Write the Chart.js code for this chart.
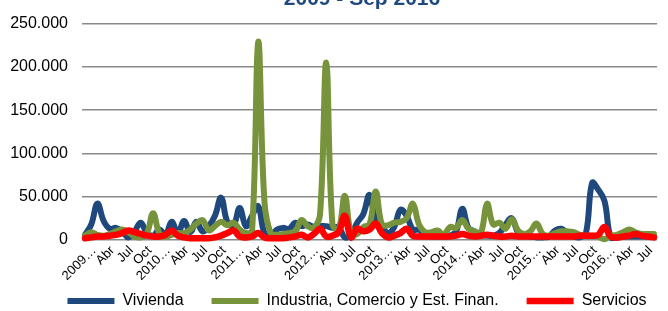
<!DOCTYPE html>
<html>
<head>
<meta charset="utf-8">
<script src="https://cdn.jsdelivr.net/npm/chart.js@4.4.1/dist/chart.umd.min.js"></script>
<style>
  html, body { margin: 0; padding: 0; background: #fff; }
  #wrap { position: relative; width: 668px; height: 311px; overflow: hidden; }
  #box { position: absolute; left: 0; top: 0; width: 668px; height: 339px; }
</style>
</head>
<body>
<div id="wrap"><div id="box"><canvas id="c"></canvas></div></div>
<script>
// ---- data (monthly, Ene 2009 - Sep 2016) ----
const monthNames = ['Ene','Feb','Mar','Abr','May','Jun','Jul','Ago','Sep','Oct','Nov','Dic'];
const categories = [];
for (let y = 2009; y <= 2016; y++) {
  for (let m = 0; m < 12; m++) {
    if (y === 2016 && m > 8) break;
    categories.push(monthNames[m] + ' ' + y);
  }
}
const tickLabels = [
  '2009…','Abr','Jul','Oct',
  '2010…','Abr','Jul','Oct',
  '2011…','Abr','Jul','Oct',
  '2012…','Abr','Jul','Oct',
  '2013…','Abr','Jul','Oct',
  '2014…','Abr','Jul','Oct',
  '2015…','Abr','Jul','Oct',
  '2016…','Abr','Jul'
];
const seriesNames = ['Vivienda', 'Industria, Comercio y Est. Finan.', 'Servicios'];
const vivienda = [
  6000,18000,42000,22000,13000,14000,10000,3000,10000,20000,8000,5000,
  12000,6000,21000,8000,22000,9000,21000,10000,16000,28000,49000,21000,
  17000,37000,16000,28000,39000,8000,4000,12000,14000,13000,20000,16000,
  18000,15000,16000,16000,14000,15000,3000,6000,20000,30000,52000,22000,
  15000,8000,15000,35000,28000,12000,12000,6000,4000,4000,4000,5000,
  10000,36000,14000,10000,6000,5000,5000,8000,18000,25000,9000,5000,
  4000,3000,3000,4000,11000,13000,8000,4000,3000,8000,66000,58000,
  45000,3000,3000,4000,4000,4000,4000,4000,4000
];
const industria = [
  5000,9000,6000,5000,7000,10000,12000,9000,4000,3000,8000,31000,
  8000,4000,6000,8000,8000,12000,19000,23000,11000,16000,21000,17000,
  20000,12000,8000,10000,229000,45000,8000,6000,7000,8000,10000,23000,
  16000,14000,30000,205000,18000,12000,51000,8000,7000,15000,18000,56000,
  18000,17000,20000,21000,25000,42000,18000,9000,9000,11000,6000,15000,
  14000,23000,13000,10000,8000,42000,18000,20000,13000,24000,11000,7000,
  10000,19000,7000,5000,8000,10000,10000,9000,6000,5000,5000,4000,
  1000,5000,6000,9000,12000,9000,7000,7000,7000
];
const servicios = [
  2000,3000,4000,4000,5000,6000,8000,11000,9000,7000,5000,4000,
  4000,6000,11000,5000,3000,2000,2000,2000,2000,3000,5000,8000,
  11000,4000,3000,4000,8000,3000,2000,2000,2000,3000,4000,6000,
  3000,7000,13000,4000,5000,9000,28000,3000,13000,10000,12000,19000,
  8000,3000,5000,8000,13000,5000,4000,4000,4000,4000,4000,4000,
  5000,7000,5000,4000,5000,6000,5000,4000,4000,5000,4000,4000,
  4000,4000,4000,4000,4000,4000,4000,4000,5000,5000,5000,6000,
  15000,4000,3000,4000,5000,7000,5000,4000,3000
];
const yTicks = [0, 50000, 100000, 150000, 200000, 250000];
const titleText = '2009 - Sep 2016';

const colors = ['#1F497D', '#77933C', '#FF0000'];
const FONT = '"Liberation Sans", Arial, sans-serif';

function fmt(v) {
  return String(v).replace(/\B(?=(\d{3})+(?!\d))/g, '.');
}

const titlePlugin = {
  id: 'cutTitle',
  afterLayout(chart) {
    // the source chart was cropped: legend is centred on the original (wider) frame
    const lg = chart.legend;
    if (lg) {
      lg.left += 18; lg.right += 18;
      lg.top -= 20; lg.bottom -= 20;
    }
  },
  afterDraw(chart) {
    const ctx = chart.ctx;
    ctx.save();
    ctx.font = 'bold 21px ' + FONT;
    ctx.fillStyle = '#1F497D';
    ctx.textAlign = 'center';
    ctx.textBaseline = 'alphabetic';
    ctx.fillText(titleText, 362, 4.5);
    ctx.restore();
  }
};

new Chart(document.getElementById('c'), {
  type: 'line',
  data: {
    labels: categories,
    datasets: [
      { label: seriesNames[0], data: vivienda, borderColor: colors[0], backgroundColor: colors[0], borderWidth: 6, order: 3 },
      { label: seriesNames[1], data: industria, borderColor: colors[1], backgroundColor: colors[1], borderWidth: 6, order: 2 },
      { label: seriesNames[2], data: servicios, borderColor: colors[2], backgroundColor: colors[2], borderWidth: 6.5, order: 1 }
    ].map(d => Object.assign(d, {
      pointRadius: 0, pointHoverRadius: 0, tension: 0.4, fill: false,
      borderCapStyle: 'round', borderJoinStyle: 'round', clip: false,
      pointStyle: 'line'
    }))
  },
  options: {
    responsive: true,
    maintainAspectRatio: false,
    animation: false,
    events: [],
    layout: { padding: { left: 10, right: 0, top: 19, bottom: 0 } },
    plugins: {
      title: { display: false },
      tooltip: { enabled: false },
      legend: {
        position: 'bottom',
        labels: {
          usePointStyle: true,
          pointStyleWidth: 47,
          boxHeight: 16,
          padding: 28,
          color: '#000',
          font: { family: FONT, size: 16 },
          sort: (a, b) => a.datasetIndex - b.datasetIndex
        }
      }
    },
    scales: {
      x: {
        type: 'category',
        offset: true,
        grid: { display: false, drawTicks: false },
        border: { display: false },
        afterFit(scale) { scale.height = 45; scale.paddingLeft = 0; },
        ticks: {
          autoSkip: false,
          minRotation: 45,
          maxRotation: 45,
          padding: 3,
          labelOffset: 9,
          color: '#000',
          font: { family: FONT, size: 13 },
          callback: (v, i) => (i % 3 === 0 ? tickLabels[i / 3] : '')
        }
      },
      y: {
        min: 0,
        max: 250000,
        afterFit(scale) { scale.width = 72; },
        afterBuildTicks(scale) { scale.ticks = yTicks.map(v => ({ value: v })); },
        grid: { color: '#8a8a8a', lineWidth: 1.6, drawTicks: false },
        border: { display: false },
        ticks: {
          padding: 14,
          color: '#000',
          font: { family: FONT, size: 16 },
          callback: v => fmt(v)
        }
      }
    }
  },
  plugins: [titlePlugin]
});
</script>
</body>
</html>
